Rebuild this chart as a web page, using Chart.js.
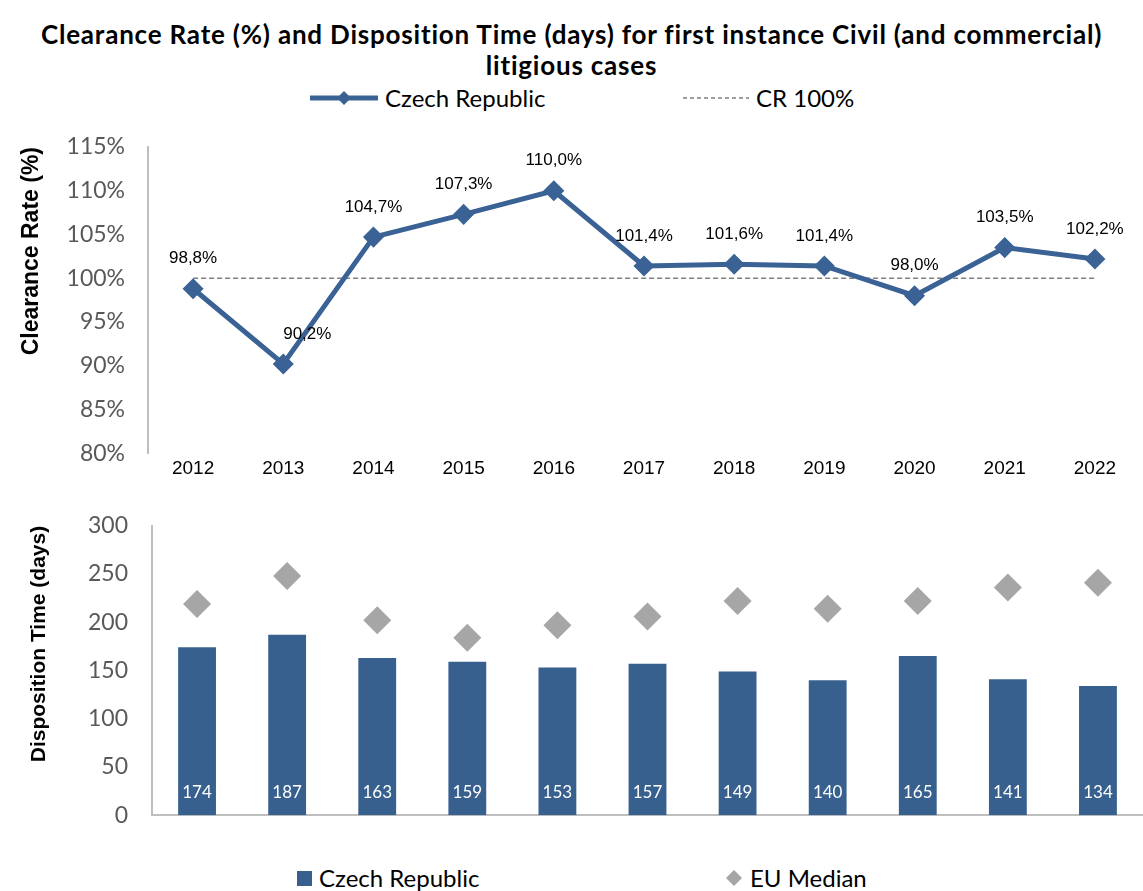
<!DOCTYPE html>
<html>
<head>
<meta charset="utf-8">
<script src="https://cdn.jsdelivr.net/npm/chart.js@4"></script>
<style>
  body { margin: 0; background: #fff; overflow: hidden; }
  #wrap { position: relative; width: 1143px; height: 891px; overflow: hidden; font-family: Lato, "Liberation Sans", sans-serif; }
  .title { position: absolute; left: 0; width: 1143px; text-align: center; font-weight: bold; font-size: 26px; letter-spacing: 0.8px; color: #000; }
  .leg { position: absolute; display: flex; align-items: center; font-size: 24px; color: #000; white-space: nowrap; }
  .leg svg { margin-right: 7px; }
  canvas { position: absolute; left: 0; }
</style>
</head>
<body>
<div id="wrap">
  <div class="title" style="top:18px">Clearance Rate (%) and Disposition Time (days) for first instance Civil (and commercial)</div>
  <div class="title" style="top:49px">litigious cases</div>

  <div class="leg" style="left:310px;top:83px">
    <svg width="68" height="28"><line x1="0" y1="14" x2="68" y2="14" stroke="#3A6295" stroke-width="5"/><polygon points="34,7 41,14 34,21 27,14" fill="#3A6295"/></svg>Czech Republic
  </div>
  <div class="leg" style="left:683px;top:83px">
    <svg width="66" height="28"><line x1="0" y1="14" x2="66" y2="14" stroke="#808080" stroke-width="1.5" stroke-dasharray="4,3"/></svg>CR 100%
  </div>

  <canvas id="crChart" width="1152" height="380" style="top:110px"></canvas>
  <canvas id="dtChart" width="1157" height="365" style="top:488px"></canvas>

  <div class="leg" style="left:297px;top:863px">
    <svg width="15" height="28"><rect x="0" y="7" width="15" height="15" fill="#37608F"/></svg>Czech Republic
  </div>
  <div class="leg" style="left:725px;top:863px">
    <svg width="18" height="28"><polygon points="9,6 17,14 9,22 1,14" fill="#A6A6A6"/></svg>EU Median
  </div>
</div>

<script>
const years = ['2012', '2013', '2014', '2015', '2016', '2017', '2018', '2019', '2020', '2021', '2022'];

// Clearance Rate (%)
const clearanceRate = [98.8, 90.2, 104.7, 107.3, 110.0, 101.4, 101.6, 101.4, 98.0, 103.5, 102.2];
const crTarget = [100, 100, 100, 100, 100, 100, 100, 100, 100, 100, 100];

// Disposition Time (days)
const dispositionCZ = [174, 187, 163, 159, 153, 157, 149, 140, 165, 141, 134];
const euMedian = [219, 248, 202, 184, 197, 206, 222, 214, 222, 236, 241];

const BLUE = '#3A6295';
const BAR = '#37608F';
const GREY = '#A6A6A6';
const ARIAL = '"Liberation Sans", Arial, sans-serif';
const LATO = 'Lato, "Liberation Sans", sans-serif';

Chart.defaults.devicePixelRatio = 1;

// value labels above the line points (2013 label sits a bit to the right)
const lineLabels = {
  id: 'lineLabels',
  afterDatasetsDraw(chart) {
    const ctx = chart.ctx;
    const meta = chart.getDatasetMeta(0);
    ctx.save();
    ctx.font = '17px ' + ARIAL;
    ctx.fillStyle = '#000';
    ctx.textAlign = 'center';
    ctx.textBaseline = 'middle';
    meta.data.forEach((pt, i) => {
      const dx = i === 1 ? 24 : 0;
      const txt = clearanceRate[i].toFixed(1).replace('.', ',') + '%';
      ctx.fillText(txt, pt.x + dx, pt.y - 30);
    });
    ctx.restore();
  }
};

// white numbers at the foot of each bar
const barLabels = {
  id: 'barLabels',
  afterDatasetsDraw(chart) {
    const ctx = chart.ctx;
    const meta = chart.getDatasetMeta(0);
    const base = chart.scales.y.getPixelForValue(0);
    ctx.save();
    ctx.font = '17px ' + LATO;
    ctx.fillStyle = '#fff';
    ctx.textAlign = 'center';
    ctx.textBaseline = 'middle';
    meta.data.forEach((bar, i) => {
      ctx.fillText(String(dispositionCZ[i]), bar.x, base - 23);
    });
    ctx.restore();
  }
};

new Chart(document.getElementById('crChart'), {
  type: 'line',
  data: {
    labels: years,
    datasets: [{
      label: 'Czech Republic',
      data: clearanceRate,
      borderColor: BLUE,
      backgroundColor: BLUE,
      borderWidth: 5,
      pointStyle: 'rectRot',
      pointRadius: 7,
      pointHoverRadius: 7,
      tension: 0
    }, {
      label: 'CR 100%',
      data: crTarget,
      borderColor: '#808080',
      borderWidth: 1.5,
      borderDash: [5, 3],
      pointRadius: 0
    }]
  },
  options: {
    responsive: false,
    animation: false,
    layout: { padding: { top: 37, right: 3, left: 0, bottom: 0 } },
    plugins: { legend: { display: false }, tooltip: { enabled: false } },
    scales: {
      x: {
        offset: true,
        grid: { display: false, drawTicks: false },
        border: { display: false },
        ticks: { font: { family: ARIAL, size: 19 }, color: '#000', padding: 4 },
        afterFit(s) { s.height = 28; }
      },
      y: {
        min: 80, max: 115,
        grid: { display: false, drawTicks: false },
        border: { color: '#BFBFBF', width: 2 },
        ticks: { stepSize: 5, callback: v => v + '%', font: { family: LATO, size: 23 }, color: '#595959', padding: 23 },
        title: { display: true, text: 'Clearance Rate (%)', align: 'end', color: '#000',
                 font: { family: ARIAL, size: 23, weight: 'bold' }, padding: { top: 18, bottom: 0 } },
        afterFit(s) { s.width = 148; }
      }
    }
  },
  plugins: [lineLabels]
});

new Chart(document.getElementById('dtChart'), {
  type: 'bar',
  data: {
    labels: years,
    datasets: [{
      type: 'bar',
      label: 'Czech Republic',
      data: dispositionCZ,
      backgroundColor: BAR,
      barPercentage: 0.42,
      categoryPercentage: 1,
      order: 2
    }, {
      type: 'line',
      label: 'EU Median',
      data: euMedian,
      showLine: false,
      pointStyle: 'rectRot',
      pointRadius: 14,
      pointHoverRadius: 14,
      backgroundColor: GREY,
      borderColor: GREY,
      borderWidth: 0,
      order: 1
    }]
  },
  options: {
    responsive: false,
    animation: false,
    layout: { padding: { top: 13, right: 1, left: 0, bottom: 0 } },
    plugins: { legend: { display: false }, tooltip: { enabled: false } },
    scales: {
      x: {
        offset: true,
        grid: { display: false, drawTicks: false },
        border: { color: '#BFBFBF', width: 2 },
        ticks: { display: false },
        afterFit(s) { s.height = 15; }
      },
      y: {
        min: 0, max: 300,
        grid: { display: false, drawTicks: false },
        border: { color: '#BFBFBF', width: 2 },
        ticks: { stepSize: 50, font: { family: LATO, size: 23 }, color: '#595959', padding: 24 },
        title: { display: true, text: 'Disposition Time (days)', align: 'end', color: '#000',
                 font: { family: ARIAL, size: 21, weight: 'bold' }, padding: { top: 27, bottom: 0 } },
        afterFit(s) { s.width = 152; }
      }
    }
  },
  plugins: [barLabels]
});
</script>
</body>
</html>
